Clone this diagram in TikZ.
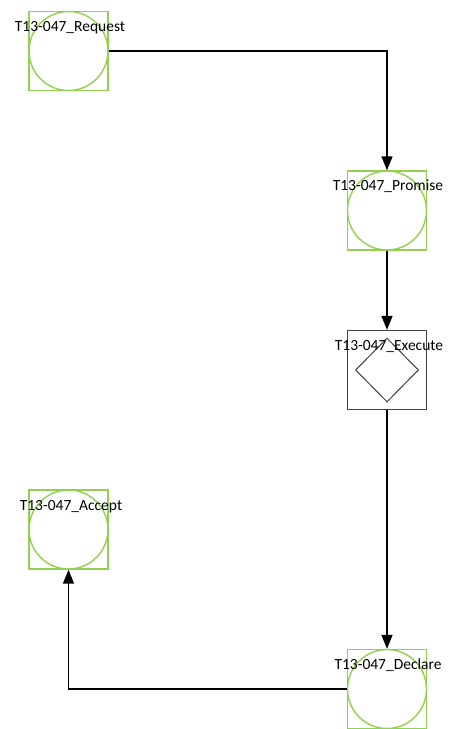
\documentclass[tikz,border=0pt]{standalone}
\usepackage{fontspec}
\setmainfont{Carlito}
\usetikzlibrary{arrows.meta,shapes.geometric}
\definecolor{actgreen}{RGB}{146,208,80}
\definecolor{actgray}{RGB}{64,64,64}
\begin{document}
\begin{tikzpicture}[x=1pt,y=-1pt,
  actbox/.style={draw=actgreen,line width=1.4pt,minimum width=79pt,minimum height=79pt,inner sep=0pt},
  actcirc/.style={draw=actgreen,line width=1.4pt,circle,minimum size=79pt,inner sep=0pt},
  exbox/.style={draw=actgray,line width=1.3pt,minimum width=79pt,minimum height=79pt,inner sep=0pt},
  exdiam/.style={draw=actgray,line width=1pt,diamond,minimum width=63pt,minimum height=64pt,inner sep=0pt},
  lbl/.style={font=\fontsize{15.5pt}{18pt}\selectfont,inner sep=0pt},
  conn/.style={line width=1.5pt,-{Triangle[length=14pt,width=11pt]}}]
\useasboundingbox (0,0) rectangle (451,729);
% Request
\node[actbox] (reqb) at (68.5,51) {};
\node[actcirc] (req) at (68.5,51) {};
\node[lbl] (reql) at (70,27.5) {T13-047\_Request};
% Promise
\node[actbox] (prob) at (387,210.5) {};
\node[actcirc] (pro) at (387,210.5) {};
\node[lbl] (prol) at (388,186.5) {T13-047\_Promise};
% Execute
\node[exbox] (exeb) at (387,370) {};
\node[exdiam] (exe) at (387,370) {};
\node[lbl] (exel) at (389,346.5) {T13-047\_Execute};
% Accept
\node[actbox] (accb) at (68.5,529.5) {};
\node[actcirc] (acc) at (68.5,529.5) {};
\node[lbl] (accl) at (71,506.5) {T13-047\_Accept};
% Declare
\node[actbox] (decb) at (387,689) {};
\node[actcirc] (dec) at (387,689) {};
\node[lbl] (decl) at (388,665.5) {T13-047\_Declare};
% connectors
\draw[conn] (reqb.east) -| (prob.north);
\draw[conn] (prob.south) -- (exeb.north);
\draw[conn] (exeb.south) -- (decb.north);
\draw[conn] (decb.west) -| (accb.south);
\end{tikzpicture}
\end{document}
